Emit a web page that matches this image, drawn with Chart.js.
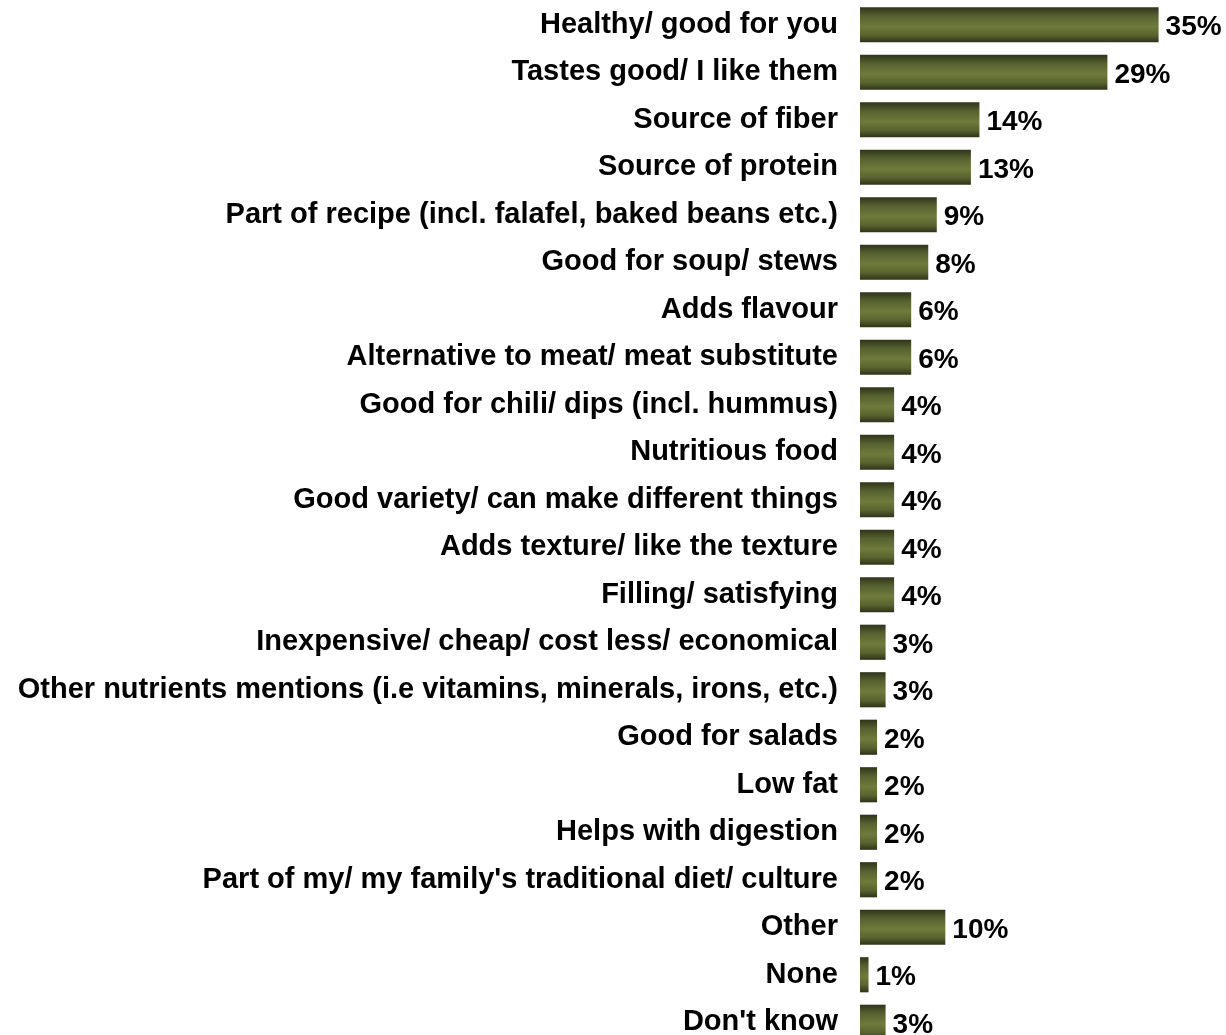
<!DOCTYPE html>
<html>
<head>
<meta charset="utf-8">
<script src="https://cdn.jsdelivr.net/npm/chart.js@4/dist/chart.umd.min.js"></script>
<style>
  html, body { margin: 0; padding: 0; background: #fff; overflow: hidden; }
  #wrap { position: relative; width: 1226px; height: 1046px; }
</style>
</head>
<body>
<div id="wrap"><canvas id="reasonsChart"></canvas></div>
<script>
const reasons = [
  'Healthy/ good for you',
  'Tastes good/ I like them',
  'Source of fiber',
  'Source of protein',
  'Part of recipe (incl. falafel, baked beans etc.)',
  'Good for soup/ stews',
  'Adds flavour',
  'Alternative to meat/ meat substitute',
  'Good for chili/ dips (incl. hummus)',
  'Nutritious food',
  'Good variety/ can make different things',
  'Adds texture/ like the texture',
  'Filling/ satisfying',
  'Inexpensive/ cheap/ cost less/ economical',
  'Other nutrients mentions (i.e vitamins, minerals, irons, etc.)',
  'Good for salads',
  'Low fat',
  'Helps with digestion',
  "Part of my/ my family's traditional diet/ culture",
  'Other',
  'None',
  "Don't know"
];
const percents = [35, 29, 14, 13, 9, 8, 6, 6, 4, 4, 4, 4, 4, 3, 3, 2, 2, 2, 2, 10, 1, 3];

const fontFamily = '"Liberation Sans", Arial, sans-serif';

// olive bar shading, dark at the edges and light through the middle
function barGradient(context) {
  const chart = context.chart;
  const yScale = chart.scales.y;
  if (!chart.chartArea || !yScale) return '#5f6a32';
  const center = yScale.getPixelForValue(context.dataIndex);
  const half = 17.5;
  const g = chart.ctx.createLinearGradient(0, center - half, 0, center + half);
  g.addColorStop(0, '#30341a');
  g.addColorStop(0.25, '#566130');
  g.addColorStop(0.55, '#6f7b3c');
  g.addColorStop(0.8, '#58632f');
  g.addColorStop(1, '#2f3319');
  return g;
}

// percentage text just past the end of each bar
const valueLabels = {
  id: 'valueLabels',
  afterDatasetsDraw(chart) {
    const ctx = chart.ctx;
    const meta = chart.getDatasetMeta(0);
    ctx.save();
    ctx.font = 'bold 28px ' + fontFamily;
    ctx.fillStyle = '#000';
    ctx.textAlign = 'left';
    ctx.textBaseline = 'middle';
    meta.data.forEach((bar, i) => {
      ctx.fillText(percents[i] + '%', bar.x + 7, bar.y + 3);
    });
    ctx.restore();
  }
};

new Chart(document.getElementById('reasonsChart'), {
  type: 'bar',
  data: {
    labels: reasons,
    datasets: [{
      data: percents,
      backgroundColor: barGradient,
      borderWidth: 0,
      barPercentage: 0.74,
      categoryPercentage: 1.0
    }]
  },
  options: {
    indexAxis: 'y',
    responsive: true,
    maintainAspectRatio: false,
    animation: false,
    layout: { padding: { top: 1, left: 0, right: 0, bottom: 0 } },
    plugins: {
      legend: { display: false },
      tooltip: { enabled: false }
    },
    scales: {
      x: {
        display: false,
        min: 0,
        max: 42.9
      },
      y: {
        grid: { display: false, drawTicks: false },
        border: { display: false },
        afterFit(scale) {
          scale.width = 860;
          // tick padding should only push labels sideways, not shrink the bands
          scale.paddingTop = 0;
          scale.paddingBottom = 0;
        },
        ticks: {
          padding: 22,
          color: '#000',
          autoSkip: false,
          font: { family: fontFamily, size: 29, weight: 'bold' }
        }
      }
    }
  },
  plugins: [valueLabels]
});
</script>
</body>
</html>
